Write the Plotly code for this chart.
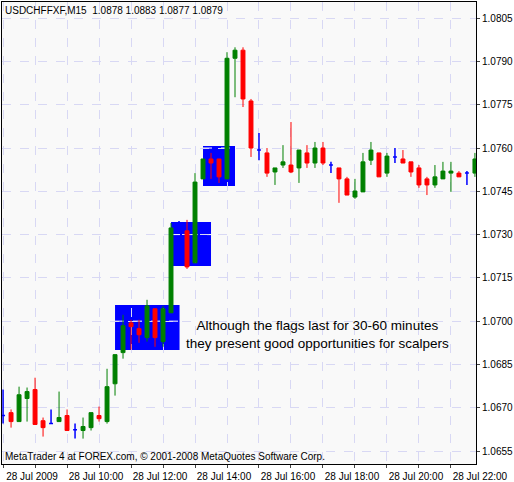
import pandas as pd
import plotly.graph_objects as go

# USDCHF M15, 28 Jul 2009, bars from 08:00
opens = [1.06673, 1.06683, 1.06652, 1.06732, 1.06763, 1.06655, 1.06645, 1.06652, 1.06673, 1.06624,
         1.06621, 1.06631, 1.06673, 1.06652, 1.06783, 1.06891, 1.06994, 1.06974, 1.06943, 1.07043,
         1.06929, 1.07029, 1.07330, 1.07313, 1.07202, 1.07493, 1.07562, 1.07562, 1.07493, 1.07911,
         1.07939, 1.07763, 1.07593, 1.07583, 1.07517, 1.07541, 1.07541, 1.07531, 1.07583, 1.07548,
         1.07600, 1.07541, 1.07531, 1.07493, 1.07430, 1.07448, 1.07558, 1.07583, 1.07513, 1.07569,
         1.07562, 1.07552, 1.07531, 1.07493, 1.07472, 1.07493, 1.07513, 1.07513, 1.07513, 1.07513]
highs = [1.06763, 1.06694, 1.06773, 1.06770, 1.06804, 1.06666, 1.06694, 1.06756, 1.06694, 1.06645,
         1.06666, 1.06683, 1.06704, 1.06835, 1.06884, 1.07022, 1.07005, 1.07005, 1.07074, 1.07043,
         1.07053, 1.07340, 1.07347, 1.07351, 1.07513, 1.07562, 1.07583, 1.07562, 1.07932, 1.07949,
         1.07949, 1.07770, 1.07652, 1.07600, 1.07531, 1.07610, 1.07690, 1.07593, 1.07610, 1.07621,
         1.07621, 1.07552, 1.07531, 1.07500, 1.07493, 1.07583, 1.07621, 1.07583, 1.07583, 1.07600,
         1.07593, 1.07552, 1.07541, 1.07500, 1.07541, 1.07552, 1.07552, 1.07520, 1.07520, 1.07583]
lows = [1.06645, 1.06631, 1.06652, 1.06652, 1.06642, 1.06600, 1.06645, 1.06652, 1.06621, 1.06593,
        1.06593, 1.06621, 1.06652, 1.06645, 1.06742, 1.06870, 1.06901, 1.06925, 1.06929, 1.06911,
        1.06911, 1.07029, 1.07323, 1.07181, 1.07202, 1.07493, 1.07493, 1.07479, 1.07493, 1.07776,
        1.07742, 1.07569, 1.07558, 1.07500, 1.07472, 1.07531, 1.07513, 1.07479, 1.07531, 1.07531,
        1.07541, 1.07513, 1.07410, 1.07437, 1.07424, 1.07448, 1.07541, 1.07500, 1.07500, 1.07548,
        1.07548, 1.07500, 1.07462, 1.07437, 1.07462, 1.07493, 1.07448, 1.07500, 1.07472, 1.07500]
closes = [1.06673, 1.06652, 1.06745, 1.06756, 1.06642, 1.06631, 1.06645, 1.06666, 1.06621, 1.06624,
          1.06635, 1.06683, 1.06662, 1.06773, 1.06884, 1.06984, 1.06981, 1.06953, 1.07053, 1.06943,
          1.07043, 1.07323, 1.07330, 1.07188, 1.07482, 1.07562, 1.07548, 1.07500, 1.07911, 1.07939,
          1.07770, 1.07600, 1.07593, 1.07513, 1.07531, 1.07552, 1.07517, 1.07593, 1.07548, 1.07600,
          1.07548, 1.07541, 1.07493, 1.07437, 1.07451, 1.07552, 1.07593, 1.07500, 1.07572, 1.07569,
          1.07548, 1.07517, 1.07472, 1.07472, 1.07500, 1.07520, 1.07520, 1.07500, 1.07513, 1.07562]
doji_bars = [0, 6, 9, 22, 32, 41, 49, 58]

price_ticks = [1.0655, 1.0670, 1.0685, 1.0700, 1.0715, 1.0730, 1.0745, 1.0760, 1.0775, 1.0790, 1.0805]
time_labels = ["28 Jul 2009", "", "28 Jul 10:00", "", "28 Jul 12:00", "", "28 Jul 14:00", "",
               "28 Jul 16:00", "", "28 Jul 18:00", "", "28 Jul 20:00", "", "28 Jul 22:00"]

# flag boxes: (start time, end time, low, high)
flags = [("2009-07-28 11:30", "2009-07-28 13:31", 1.06900, 1.07056),
         ("2009-07-28 13:15", "2009-07-28 14:30", 1.07191, 1.07344),
         ("2009-07-28 14:15", "2009-07-28 15:15", 1.07468, 1.07607)]

times = pd.date_range("2009-07-28 08:00", periods=len(opens), freq="15min")
df = pd.DataFrame({"t": times, "o": opens, "h": highs, "l": lows, "c": closes})
is_doji = df.index.isin(doji_bars)
body = df[~is_doji]
doji = df[is_doji]

fig = go.Figure()
for t0, t1, lo, hi in flags:
    fig.add_shape(type="rect", x0=t0, x1=t1, y0=lo, y1=hi, fillcolor="#0000ff",
                  line=dict(width=0), layer="below")
    for p in price_ticks:
        if lo < p < hi:
            fig.add_shape(type="line", x0=t0, x1=t1, y0=p, y1=p, layer="below",
                          line=dict(color="white", width=1, dash="dash"))

fig.add_trace(go.Candlestick(
    x=body["t"], open=body["o"], high=body["h"], low=body["l"], close=body["c"],
    increasing=dict(line=dict(color="#008000", width=1), fillcolor="#008000"),
    decreasing=dict(line=dict(color="#ff0000", width=1), fillcolor="#ff0000"),
    whiskerwidth=0, showlegend=False))
fig.add_trace(go.Candlestick(
    x=doji["t"], open=doji["o"], high=doji["h"], low=doji["l"], close=doji["c"],
    increasing=dict(line=dict(color="#0000ff", width=1.5), fillcolor="#0000ff"),
    decreasing=dict(line=dict(color="#0000ff", width=1.5), fillcolor="#0000ff"),
    whiskerwidth=0, showlegend=False))

font = dict(family="Liberation Sans, Arial", size=10, color="black")
fig.add_annotation(xref="paper", yref="paper", x=0.003, y=0.998, xanchor="left", yanchor="top",
                   text="USDCHFFXF,M15  1.0878 1.0883 1.0877 1.0879", showarrow=False, font=font)
fig.add_annotation(xref="paper", yref="paper", x=0.003, y=0.0, xanchor="left", yanchor="bottom",
                   text="MetaTrader 4 at FOREX.com, © 2001-2008 MetaQuotes Software Corp.",
                   showarrow=False, font=font)
fig.add_annotation(x="2009-07-28 17:50", y=1.06953, xanchor="center", yanchor="middle",
                   text="Although the flags last for 30-60 minutes<br>they present good opportunities for scalpers",
                   showarrow=False, font=dict(family="Liberation Sans, Arial", size=13.5, color="black"))

fig.update_layout(
    width=514, height=482, margin=dict(l=2, r=38, t=2, b=18, autoexpand=False),
    paper_bgcolor="white", plot_bgcolor="#f9f9f9", font=font,
    xaxis=dict(rangeslider=dict(visible=False), type="date", automargin=False,
               range=["2009-07-28 07:58", "2009-07-28 22:47"],
               tickvals=pd.date_range("2009-07-28 08:00", periods=len(time_labels), freq="1h"),
               ticktext=time_labels, ticks="outside", ticklen=3, ticklabelshift=29,
               ticklabelstandoff=0,
               showgrid=True, gridcolor="#d8d8f4", griddash="dash", showline=True,
               linecolor="black", mirror=True, zeroline=False),
    yaxis=dict(side="right", range=[1.06505, 1.08106], tickvals=price_ticks, automargin=False,
               tickformat=".4f", ticks="outside", ticklen=3, showgrid=True,
               gridcolor="#d8d8f4", griddash="dash", showline=True, linecolor="black",
               mirror=True, zeroline=False),
)
fig.write_html("out.html", config={"displayModeBar": False},
               post_script="document.body.style.margin='0';")
